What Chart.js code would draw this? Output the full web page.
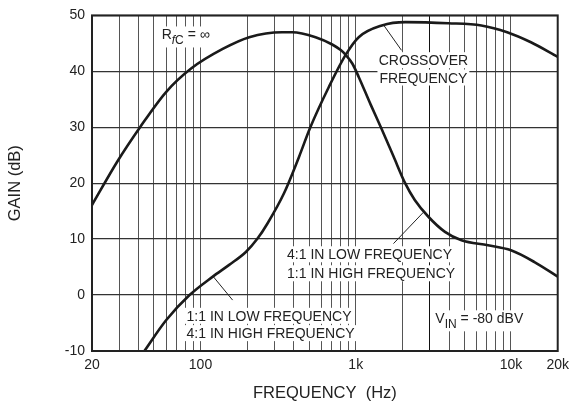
<!DOCTYPE html>
<html>
<head>
<meta charset="utf-8">
<script src="https://cdn.jsdelivr.net/npm/chart.js@4.4.1/dist/chart.umd.min.js"></script>
<style>
  html, body { margin: 0; padding: 0; background: #fff; }
  canvas { display: block; }
</style>
</head>
<body>
<canvas id="myChart" width="575" height="409"></canvas>
<script>
// R_fC = infinity curve
const freqA = [20, 29, 41, 60, 87, 139, 206, 335, 390, 551, 705, 800, 859, 950, 1045, 1250, 1473, 1750, 2080, 2400, 2937, 3756, 4800, 7110, 10000, 14170, 20000]
const gainA = [16.1, 23.8, 30.1, 36.3, 40.5, 44.0, 46.1, 47.0, 47.0, 46.1, 44.8, 43.8, 43.0, 41.4, 39.0, 34.0, 29.6, 24.8, 20.0, 17.0, 14.0, 11.3, 9.8, 8.9, 8.0, 5.9, 3.3]

// crossover curve
const freqB = [43.5, 60, 85, 120, 153, 196, 233, 270, 345, 431, 510, 671, 859, 1045, 1473, 2090, 3945, 6440, 9450, 13440, 20000]
const gainB = [-10, -4.5, 0, 3.3, 5.4, 7.7, 10.1, 12.8, 18.2, 24.7, 30, 37.2, 42.9, 46.1, 48.2, 48.8, 48.6, 48.2, 47.0, 45.2, 42.6]

const xTicks = [20, 30, 40, 50, 60, 70, 80, 90,
                100, 200, 300, 400, 500, 600, 700, 800, 900,
                1000, 2000, 3000, 4000, 5000, 6000, 7000, 8000, 9000,
                10000, 20000]
const xTickLabels = { 20: '20', 100: '100', 1000: '1k', 10000: '10k', 20000: '20k' }
const yMin = -10, yMax = 50, yStep = 10

const FONT = "'Liberation Sans', Arial, sans-serif"
const INK = '#222'

// text notes, anchored in data units (freq, dB) for each line's baseline
const notes = [
  { x: 56.2, align: 'left', lines: [{ y: 45.7, parts: [['R'], ['f', 'subi'], ['C', 'sub'], [' = \u221e']] }] },
  { x: 2728, align: 'center', lines: [{ y: 41.1, parts: [['CROSSOVER']] }, { y: 38.0, parts: [['FREQUENCY']] }] },
  { x: 361, align: 'left', lines: [{ y: 6.4, parts: [['4:1 IN LOW FREQUENCY']] }, { y: 3.0, parts: [['1:1 IN HIGH FREQUENCY']] }] },
  { x: 81.3, align: 'left', lines: [{ y: -4.6, parts: [['1:1 IN LOW FREQUENCY']] }, { y: -7.7, parts: [['4:1 IN HIGH FREQUENCY']] }] },
  { x: 3258, align: 'left', lines: [{ y: -5.05, parts: [['V'], ['IN', 'sub'], [' = -80 dBV']] }] }
]
// leader lines: [freq1, dB1, freq2, dB2]
const leaders = [
  [1510, 48.3, 1972, 43.75],
  [1750, 9.2, 2728, 14.8],
  [161, -0.9, 120, 3.4]
]

function partFont(style) {
  if (style === 'subi') return 'italic 12px ' + FONT
  if (style === 'sub') return '12px ' + FONT
  return '14px ' + FONT
}

const notesPlugin = {
  id: 'notes',
  beforeDatasetsDraw(chart) {
    const ctx = chart.ctx
    const xs = chart.scales.x, ys = chart.scales.y
    ctx.save()
    notes.forEach(n => {
      n.lines.forEach(line => {
        let w = 0
        line.parts.forEach(p => { ctx.font = partFont(p[1]); w += ctx.measureText(p[0]).width })
        let px = xs.getPixelForValue(n.x)
        const py = ys.getPixelForValue(line.y)
        if (n.align === 'center') px -= w / 2
        const hasSub = line.parts.some(p => p[1])
        ctx.fillStyle = '#fff'
        ctx.fillRect(px - 2, py - 13, w + 4, hasSub ? 21 : 16)
        ctx.fillStyle = INK
        ctx.textBaseline = 'alphabetic'
        ctx.textAlign = 'left'
        let cx = px
        line.parts.forEach(p => {
          ctx.font = partFont(p[1])
          ctx.fillText(p[0], cx, py + (p[1] ? 5 : 0))
          cx += ctx.measureText(p[0]).width
        })
      })
    })
    ctx.strokeStyle = INK
    ctx.lineWidth = 1
    leaders.forEach(l => {
      ctx.beginPath()
      ctx.moveTo(xs.getPixelForValue(l[0]), ys.getPixelForValue(l[1]))
      ctx.lineTo(xs.getPixelForValue(l[2]), ys.getPixelForValue(l[3]))
      ctx.stroke()
    })
    ctx.restore()
  },
  afterDatasetsDraw(chart) {
    const a = chart.chartArea
    const ctx = chart.ctx
    ctx.save()
    ctx.strokeStyle = INK
    ctx.lineWidth = 2
    ctx.strokeRect(a.left, a.top, a.right - a.left, a.bottom - a.top)
    ctx.restore()
  }
}

const toPoints = (fs, gs) => fs.map((f, i) => ({ x: f, y: gs[i] }))

const canvas = document.getElementById('myChart').getContext('2d')

new Chart(canvas, {
  type: 'line',
  data: {
    datasets: [
      { data: toPoints(freqA, gainA), borderColor: '#1a1a1a', borderWidth: 2.6, pointRadius: 0, cubicInterpolationMode: 'monotone', fill: false },
      { data: toPoints(freqB, gainB), borderColor: '#1a1a1a', borderWidth: 2.6, pointRadius: 0, cubicInterpolationMode: 'monotone', fill: false }
    ]
  },
  options: {
    responsive: false,
    animation: false,
    devicePixelRatio: 1,
    layout: { padding: { top: 15, right: 15, left: 0, bottom: 0 } },
    plugins: { legend: { display: false }, tooltip: { enabled: false } },
    scales: {
      x: {
        type: 'logarithmic',
        min: 20,
        max: 20000,
        afterBuildTicks: s => { s.ticks = xTicks.map(v => ({ value: v })) },
        afterFit: s => { s.height = 58 },
        ticks: {
          autoSkip: false, maxRotation: 0, padding: 6, color: INK,
          font: { family: FONT, size: 14 },
          callback: v => xTickLabels[v] || ''
        },
        grid: {
          drawTicks: false,
          color: c => (c.tick && c.tick.value === 3000) ? '#111' : '#555',
          lineWidth: 1
        },
        border: { display: false },
        title: { display: true, text: 'FREQUENCY  (Hz)', color: INK, font: { family: FONT, size: 16.5 }, padding: { top: 0, bottom: 6 } }
      },
      y: {
        min: yMin,
        max: yMax,
        afterFit: s => { s.width = 92 },
        ticks: { stepSize: yStep, padding: 7, color: INK, font: { family: FONT, size: 14 } },
        grid: { drawTicks: false, color: '#333', lineWidth: 1.3 },
        border: { display: false },
        title: { display: true, text: 'GAIN (dB)', color: INK, font: { family: FONT, size: 16.5 }, padding: { top: 6, bottom: 6 } }
      }
    }
  },
  plugins: [notesPlugin]
})
</script>
</body>
</html>
